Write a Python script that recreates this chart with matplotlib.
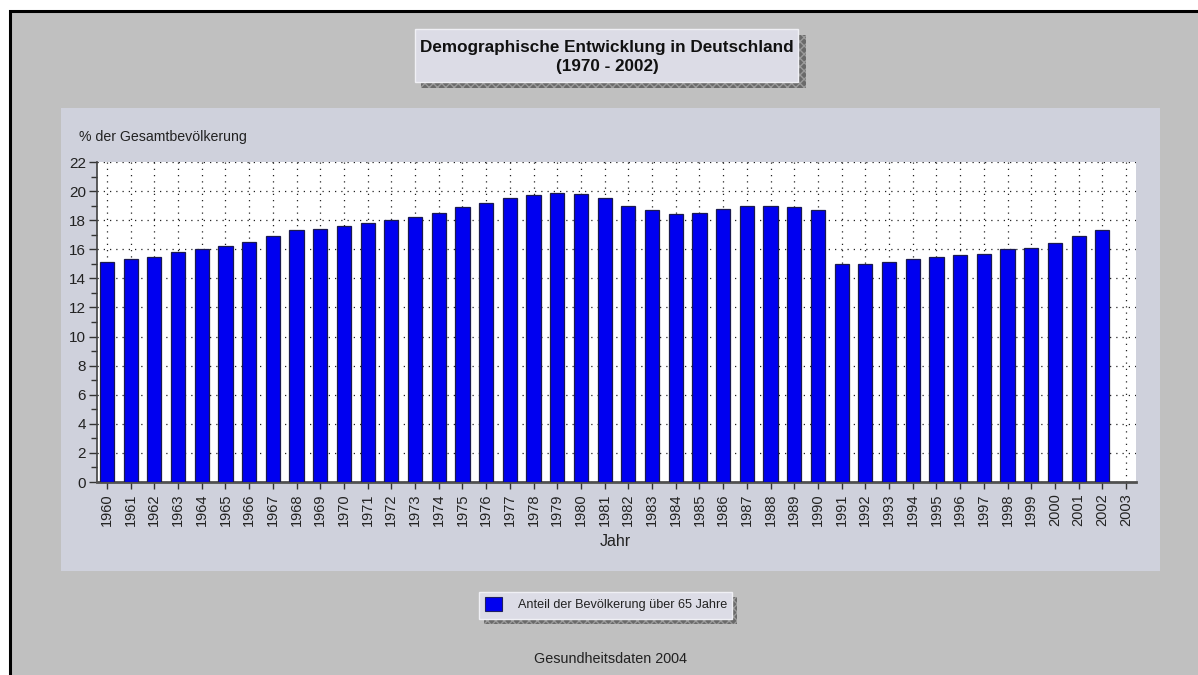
import matplotlib.pyplot as plt
from matplotlib.patches import Rectangle
from matplotlib.ticker import MultipleLocator

# Anteil der Bevölkerung über 65 Jahre in % (1960 - 2002), 2003 ohne Wert
years = list(range(1960, 2004))
share_65 = [15.1, 15.3, 15.5, 15.8, 16.0, 16.2, 16.5, 16.9, 17.3, 17.4,
            17.6, 17.8, 18.0, 18.2, 18.5, 18.9, 19.2, 19.5, 19.7, 19.9,
            19.8, 19.5, 19.0, 18.7, 18.4, 18.5, 18.8, 19.0, 19.0, 18.9,
            18.7, 15.0, 15.0, 15.1, 15.3, 15.5, 15.6, 15.7, 16.0, 16.1,
            16.4, 16.9, 17.3]

title = "Demographische Entwicklung in Deutschland\n(1970 - 2002)"
y_label = "% der Gesamtbevölkerung"
x_label = "Jahr"
legend_label = "Anteil der Bevölkerung über 65 Jahre"
footer = "Gesundheitsdaten 2004"

W, H = 1198, 675
plt.rcParams['font.family'] = ['Liberation Sans', 'DejaVu Sans']

fig = plt.figure(figsize=(W / 100, H / 100), dpi=100, facecolor="white")


def box(x0, y0, x1, y1, **kw):
    """Rechteck in Pixelkoordinaten (Ursprung oben links)"""
    r = Rectangle((x0 / W, 1 - y1 / H), (x1 - x0) / W, (y1 - y0) / H,
                  transform=fig.transFigure, **kw)
    fig.add_artist(r)
    return r


def text(x, y, s, **kw):
    fig.text(x / W, 1 - y / H, s, **kw)


# Hintergrund mit schwarzem Rand oben/links
box(10, 11, W + 5, H + 5, facecolor="#c0c0c0", edgecolor="black", lw=2.2, zorder=-2)
# Panel hinter dem Diagramm
box(61, 108, 1160, 571, facecolor="#cfd1dc", edgecolor="none", zorder=-1)

# Titelbox mit Schatten
box(421, 35, 806, 88, facecolor="#6a6a6a", edgecolor="#9a9a9a", hatch="xxxx",
    lw=0, zorder=1)
box(415, 29, 798, 82, facecolor="#dcdce6", edgecolor="#f0f0f5", lw=1, zorder=2)
text(607, 57, title, ha="center", va="center", fontsize=12.3,
     fontweight="bold", color="#111111", linespacing=1.3, zorder=3)

# Legendenbox mit Schatten
box(484, 597, 737, 624, facecolor="#6a6a6a", edgecolor="#9a9a9a", hatch="xxxx",
    lw=0, zorder=1)
box(479, 592, 732, 619, facecolor="#dcdce6", edgecolor="#f0f0f5", lw=1, zorder=2)
box(485, 597, 502, 611, facecolor="#0000f0", edgecolor="#202060", lw=0.8, zorder=3)
text(518, 605, legend_label, ha="left", va="center", fontsize=9.1,
     color="#222222", zorder=3)

text(610, 659, footer, ha="center", va="center", fontsize=10.4, color="#222222")
text(79, 137, y_label, ha="left", va="center", fontsize=10.2, color="#222222")

# Diagrammfläche
ax = fig.add_axes([97 / W, 1 - 482 / H, (1136 - 97) / W, (482 - 162) / H])
ax.set_zorder(5)
ax.set_facecolor("white")

x = list(range(len(years)))
ax.bar(x[:len(share_65)], share_65, width=0.6, color="#0000f0",
       edgecolor="#1a1a50", linewidth=0.9, zorder=3)

ax.set_xlim(-0.42, len(years) - 0.58)
ax.set_ylim(0, 22)
ax.set_xticks(x)
ax.set_xticklabels([str(y) for y in years], rotation=90, fontsize=10.5,
                   color="#222222")
ax.yaxis.set_major_locator(MultipleLocator(2))
ax.yaxis.set_minor_locator(MultipleLocator(1))
ax.tick_params(axis="y", which="major", length=6, width=1, labelsize=11,
               colors="#333333", labelcolor="#222222", pad=2)
ax.tick_params(axis="y", which="minor", length=4, width=1, colors="#333333")
ax.tick_params(axis="x", length=5, width=1, colors="#333333",
               labelcolor="#222222", pad=3)

ax.grid(True, which="major", color="#222222", linestyle=(0, (1, 4)),
        linewidth=0.9, zorder=1)
ax.set_axisbelow(True)

for side in ("top", "right"):
    ax.spines[side].set_visible(False)
ax.spines["left"].set_color("#404040")
ax.spines["left"].set_linewidth(1.2)
ax.spines["bottom"].set_color("#505050")
ax.spines["bottom"].set_linewidth(2)

text(615, 542, x_label, ha="center", va="center", fontsize=11.5, color="#222222")

fig.savefig("out.png", dpi=100, facecolor=fig.get_facecolor())
